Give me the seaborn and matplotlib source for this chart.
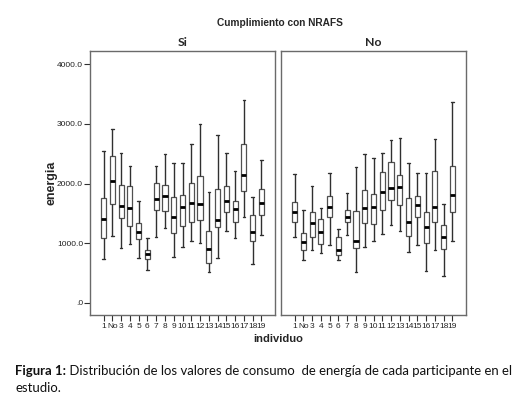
import numpy as np
import pandas as pd
import matplotlib
matplotlib.use("Agg")
import matplotlib.pyplot as plt
from matplotlib.ticker import FixedLocator
import seaborn as sns

# ---- data (five-number summaries) ----
individuos = ["1", "No", "3", "4", "5", "6", "7", "8", "9", "10",
              "11", "12", "13", "14", "15", "16", "17", "18", "19"]
grupos = ["Si", "No"]

si_min = [728, 1119, 913, 985, 750, 544, 1102, 1253, 772, 940,
          1040, 1002, 520, 755, 1208, 1081, 1438, 654, 1141]
si_q1 = [1085, 1656, 1416, 1292, 1074, 733, 1560, 1544, 1174, 1287,
         1349, 1382, 671, 1275, 1517, 1349, 1874, 1035, 1466]
si_med = [1399, 2042, 1622, 1584, 1181, 812, 1740, 1785, 1443, 1600,
          1673, 1661, 901, 1388, 1706, 1572, 2148, 1191, 1678]
si_q3 = [1762, 2466, 1975, 1953, 1337, 889, 2013, 1970, 1773, 1812,
         2013, 2131, 1198, 1903, 1953, 1711, 2657, 1471, 1908]
si_max = [2545, 2909, 2512, 2299, 1701, 1085, 2294, 2490, 2344, 2349,
          2657, 2993, 1862, 2814, 2512, 2210, 3401, 1773, 2399]

no_min = [1107, 716, 884, 829, 973, 711, 1136, 515, 940, 1035,
          1158, 1304, 1208, 851, 968, 537, 879, 443, 1040]
no_q1 = [1354, 889, 1107, 985, 1438, 805, 1354, 913, 1342, 1315,
         1550, 1728, 1639, 1119, 1443, 1002, 1354, 896, 1527]
no_med = [1517, 1013, 1337, 1186, 1611, 884, 1443, 1040, 1584, 1611,
          1852, 1924, 1936, 1354, 1634, 1275, 1611, 1097, 1807]
no_q3 = [1684, 1174, 1517, 1409, 1785, 1097, 1560, 1533, 1891, 1824,
         2198, 2356, 2148, 1757, 1785, 1522, 2205, 1299, 2294]
no_max = [2164, 1560, 1958, 1589, 2176, 1242, 1846, 2282, 2495, 2423,
          2517, 2730, 2768, 2349, 2176, 2176, 2752, 1656, 3372]

ytick_values = [0, 1000, 2000, 3000, 4000]
ytick_labels = [".0", "1000.0", "2000.0", "3000.0", "4000.0"]

titulo = "Cumplimiento con NRAFS"
ylabel = "energia"
xlabel = "individuo"
caption_bold = "Figura 1:"
caption_rest = " Distribución de los valores de consumo  de energía de cada participante en el"
caption_line2 = "estudio."

# ---- long-form table built from the arrays ----
rows = []
stats = {
    "Si": (si_min, si_q1, si_med, si_q3, si_max),
    "No": (no_min, no_q1, no_med, no_q3, no_max),
}
for g in grupos:
    mn, q1, md, q3, mx = stats[g]
    for i, ind in enumerate(individuos):
        for v in (mn[i], q1[i], md[i], q3[i], mx[i]):
            rows.append({"grupo": g, "individuo": ind, "energia": v})
df = pd.DataFrame(rows)

sns.set_style("white")
plt.rcParams["font.family"] = ["Liberation Sans", "DejaVu Sans"]

W, H = 529, 398
fig = plt.figure(figsize=(W / 100, H / 100), dpi=100)
fig.patch.set_facecolor("white")

top_px, bot_px = 51, 315
panels = [(90, "Si"), (281, "No")]
axes = []
for left_px, g in panels:
    ax = fig.add_axes([left_px / W, 1 - bot_px / H, 185 / W, (bot_px - top_px) / H])
    sns.boxplot(
        data=df[df["grupo"] == g], x="individuo", y="energia",
        order=individuos, whis=(0, 100), width=0.58,
        color="white", linecolor="#505050", linewidth=0.9,
        medianprops=dict(color="black", linewidth=2.0),
        whiskerprops=dict(color="#303030", linewidth=1.0),
        capprops=dict(color="#303030", linewidth=1.0),
        showfliers=False, ax=ax,
    )
    ax.set_xlim(-1.55, 18 + 1.55)
    ax.set_ylim(-206, 4223)
    ax.set_xlabel("")
    ax.set_ylabel("")
    for s in ax.spines.values():
        s.set_color("#6a6a6a")
        s.set_linewidth(1.0)
        s.set_visible(True)
    ax.tick_params(axis="x", bottom=True, length=4, width=0.8, color="#303030",
                   labelsize=6, pad=1.5, labelcolor="#222222")
    ax.grid(False)
    ax.set_facecolor("white")
    ax.text(0.5, 1.0 + 8.5 / (bot_px - top_px), g, transform=ax.transAxes,
            ha="center", va="center", fontsize=8.8, fontweight="bold",
            family=["Lato", "DejaVu Sans"])
    axes.append(ax)

ax1, ax2 = axes
ax1.yaxis.set_major_locator(FixedLocator(ytick_values))
ax1.set_yticklabels(ytick_labels)
ax1.tick_params(axis="y", left=True, length=4, width=0.8, color="#303030",
                labelsize=6, pad=1, labelcolor="#222222")
ax2.set_yticks([])

fig.text(279.5 / W, 1 - 22.5 / H, titulo, ha="center", va="center",
         fontsize=7.3, fontweight="bold")
fig.text(52 / W, 1 - 183 / H, ylabel, ha="center", va="center", rotation=90,
         fontsize=9, fontweight="bold")
fig.text(278 / W, 1 - 339 / H, xlabel, ha="center", va="center",
         fontsize=8, fontweight="bold")

cap_font = ["Lato", "DejaVu Sans"]
cap_size = 9.45
t1 = fig.text(15 / W, 1 - 375 / H, caption_bold, ha="left", va="baseline",
              fontsize=cap_size, fontweight="bold", family=cap_font, color="#111111")
fig.canvas.draw()
r = fig.canvas.get_renderer()
bb = t1.get_window_extent(r)
fig.text(bb.x1 / W, 1 - 375 / H, caption_rest, ha="left", va="baseline",
         fontsize=cap_size, family=cap_font, color="#111111")
fig.text(15 / W, 1 - 392 / H, caption_line2, ha="left", va="baseline",
         fontsize=cap_size, family=cap_font, color="#111111")

fig.savefig("out.png", dpi=100, facecolor="white")
